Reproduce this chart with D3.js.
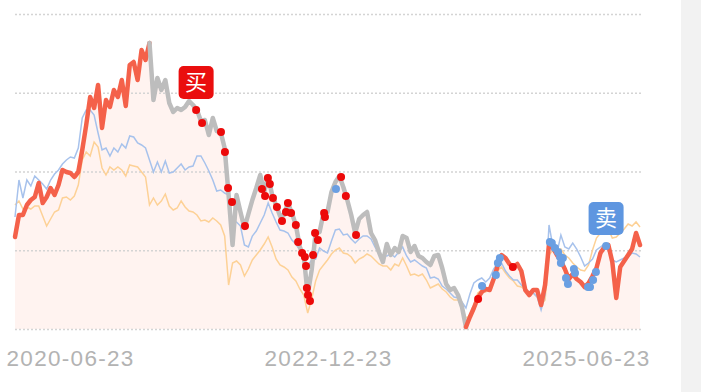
<!DOCTYPE html>
<html><head><meta charset="utf-8">
<script src="https://cdn.jsdelivr.net/npm/d3@7"></script>
<style>body{margin:0;background:#fff;overflow:hidden} svg{display:block}</style>
</head><body>
<svg id="chart" width="701" height="392"></svg>
<script>
// ---------- data ----------
const startDate = "2019-12-11";
const endDate = "2025-12-31";
const stepDays = 14;
const tickLabels = ["2020-06-23", "2022-12-23", "2025-06-23"];
const gridValues = [0, 78.75, 157.5, 236.25, 315];

// strategy (thick line)
const strategyValues = [92,114,114,124,129,132,146,126,132,141,
134,144,159,157,156,152,157,179,204,232,
221,244,201,229,222,239,232,249,223,264,
267,249,279,269,286,229,251,239,249,226,
217,221,219,222,228,224,219,208,209,194,
211,198,197,181,134,84,134,117,101,115,
129,141,154,137,153,134,124,113,114,126,
116,104,82,73,34,59,96,97,116,117,
137,147,153,142,129,114,96,110,114,117,
96,89,77,67,85,74,81,77,93,91,
77,83,73,71,67,64,73,74,61,45,
39,41,34,22,2,12,21,31,37,40,
39,50,63,74,71,65,62,65,58,39,
34,39,39,24,44,85,81,74,68,60,
50,55,50,47,42,46,53,61,76,82,
84,67,31,62,68,74,80,96,84];

// benchmark A (thin blue)
const benchBlue = [112,149,131,149,143,153,149,145,140,149,
155,159,165,169,172,171,181,211,219,219,
214,196,179,181,173,181,177,185,181,193,
192,186,184,181,169,157,167,157,168,156,
157,161,165,159,162,163,173,173,166,158,
149,138,139,136,134,106,107,103,84,82,
93,98,106,114,126,116,107,99,98,96,
89,85,79,69,63,69,70,81,78,76,
88,99,100,94,95,90,86,90,93,93,
90,82,75,73,73,75,72,77,82,73,
67,69,66,63,61,51,52,50,43,40,
36,32,31,27,21,35,46,49,51,47,
51,60,66,66,58,53,49,49,44,40,
37,36,32,19,34,104,82,76,94,82,
80,86,80,72,63,66,70,79,82,85,
78,69,67,69,71,72,76,75,72];

// benchmark B (thin orange)
const benchOrange = [124,128,120,122,120,123,123,113,103,110,
117,119,131,132,129,133,144,169,177,173,
187,182,161,154,162,159,162,159,153,164,
163,162,157,152,124,131,124,128,135,123,
119,121,128,122,118,117,114,108,109,107,
111,108,104,93,44,66,68,64,53,60,
69,74,79,85,92,82,70,64,62,59,
52,48,40,34,16,30,48,59,64,69,
75,79,81,76,75,72,66,70,72,75,
73,69,65,63,63,59,65,63,71,63,
54,55,53,55,49,41,43,45,40,37,
32,29,29,22,11,13,24,36,39,37,
42,49,58,62,56,51,48,43,42,39,
36,36,32,24,29,74,79,76,80,74,
71,66,62,59,58,64,79,91,96,99,
100,91,92,96,100,105,103,107,102];

// position state segments on strategy line (index ranges)
const segFrom = [0, 34, 114];
const segTo = [34, 114, 158];
const segState = ["hold", "empty", "hold"];

// buy / sell signal points (days since start, value)
const buyDays = [641,662,729,743,754,768,814,874,885,895,902,913,927,945,959,966,977,994,1002,1016,1026,1030,1033,1037,1044,1055,1062,1072,1094,1097,1154,1171,1207,1639,1762];
const buyValues = [219,206,197,177,141,127,103,140,133,151,145,131,122,108,117,126,116,104,87,76,72,63,41,34,28,74,96,89,116,112,152,133,94,30,62];
const sellDays = [1136,1653,1702,1709,1716,1893,1900,1911,1922,1929,1932,1939,1950,1957,1978,1982,2028,2035,2046,2056,2092];
const sellValues = [140,43,54,66,71,87,86,81,77,72,66,71,51,45,60,56,42,42,49,57,83];

const buyLabel = "买";
const sellLabel = "卖";

// ---------- build ----------
const parse = d3.utcParse("%Y-%m-%d");
const fmt = d3.utcFormat("%Y-%m-%d");
const t0 = parse(startDate);
const DAY = 864e5;
const dateAt = i => new Date(t0.getTime() + i * stepDays * DAY);
const dayToDate = d => new Date(t0.getTime() + d * DAY);

const mainData = strategyValues.map((v, i) => ({date: dateAt(i), v}));
const blueData = benchBlue.map((v, i) => ({date: dateAt(i), v}));
const orangeData = benchOrange.map((v, i) => ({date: dateAt(i), v}));
const buys = buyDays.map((d, i) => ({date: dayToDate(d), v: buyValues[i]}));
const sells = sellDays.map((d, i) => ({date: dayToDate(d), v: sellValues[i]}));

const svg = d3.select("#chart");
const x = d3.scaleUtc().domain([t0, parse(endDate)]).range([15, 640]);
const y = d3.scaleLinear().domain([0, 315]).range([329, 14]);

// side panel
svg.append("rect").attr("x", 681).attr("y", 0).attr("width", 20).attr("height", 392).attr("fill", "#f2f2f2");

// area under strategy
svg.append("path").datum(mainData)
  .attr("fill", "#fff3f0")
  .attr("d", d3.area().x(d => x(d.date)).y0(y(0)).y1(d => y(d.v)));

// grid
const grid = svg.append("g").attr("transform", "translate(641,0)")
  .call(d3.axisLeft(y).tickValues(gridValues).tickSize(628).tickFormat(""));
grid.select(".domain").remove();
grid.selectAll("line").attr("stroke", "#d4d4d4").attr("stroke-width", 1.4).attr("stroke-dasharray", "2,2");

// x axis labels
const xa = svg.append("g").attr("transform", "translate(0,329)")
  .call(d3.axisBottom(x).tickValues(tickLabels.map(parse)).tickFormat(fmt).tickSize(0).tickPadding(21));
xa.select(".domain").remove();
xa.selectAll("text").attr("fill", "#b3b3b3")
  .style("font-family", "'Liberation Sans', Arial, sans-serif")
  .style("font-size", "22.5px").style("letter-spacing", "1.3px");

const line = d3.line().x(d => x(d.date)).y(d => y(d.v)).curve(d3.curveLinear);

svg.append("path").datum(orangeData).attr("fill", "none").attr("stroke", "#fdd196").attr("stroke-width", 1.5).attr("d", line);
svg.append("path").datum(blueData).attr("fill", "none").attr("stroke", "#a7c2ec").attr("stroke-width", 1.5).attr("d", line);

const segColor = {hold: "#f4614a", empty: "#bdbdbd"};
segFrom.forEach((f, k) => {
  svg.append("path").datum(mainData.slice(f, segTo[k] + 1))
    .attr("fill", "none").attr("stroke", segColor[segState[k]])
    .attr("stroke-width", 4.5).attr("stroke-linejoin", "round").attr("stroke-linecap", "round")
    .attr("d", line);
});

svg.append("g").selectAll("circle").data(buys).join("circle")
  .attr("cx", d => x(d.date)).attr("cy", d => y(d.v)).attr("r", 4).attr("fill", "#ec0a0a");
svg.append("g").selectAll("circle").data(sells).join("circle")
  .attr("cx", d => x(d.date)).attr("cy", d => y(d.v)).attr("r", 4).attr("fill", "#6a9fe2");

function marker(pt, label, color) {
  const cx = x(pt.date), cy = y(pt.v);
  const g = svg.append("g");
  g.append("rect").attr("x", cx - 17.5).attr("y", cy - 44).attr("width", 35).attr("height", 33)
    .attr("rx", 5).attr("fill", color);
  g.append("text").attr("x", cx).attr("y", cy - 27.5).attr("dy", "0.36em")
    .attr("text-anchor", "middle").attr("fill", "#fff")
    .style("font-family", "'Noto Sans CJK SC', sans-serif").style("font-size", "22px")
    .text(label);
}
marker(buys[0], buyLabel, "#ea0e0e");
marker(sells[sells.length - 1], sellLabel, "#5e96e0");
</script>
</body></html>
